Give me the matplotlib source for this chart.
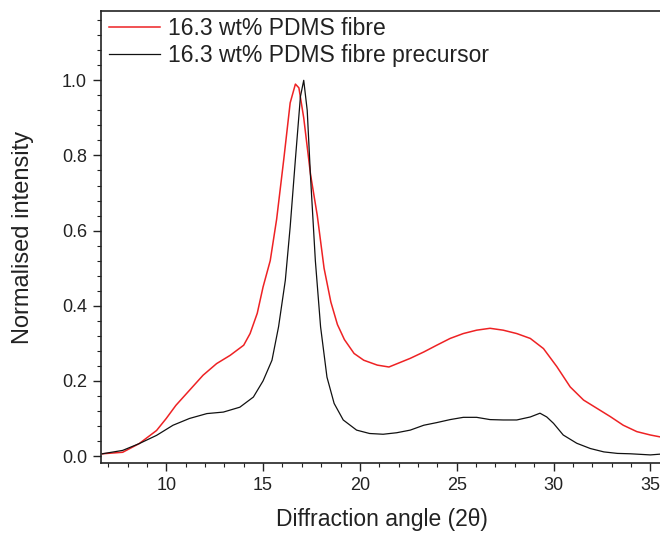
import matplotlib
matplotlib.use("Agg")
import matplotlib.pyplot as plt
from matplotlib.ticker import MultipleLocator

plt.rcParams['font.family'] = ['Liberation Sans', 'DejaVu Sans']

# 16.3 wt% PDMS fibre (red)
fibre_x = [6.7, 7.75, 8.6, 9.5, 10.0, 10.5, 11.2, 11.9, 12.6, 13.3, 14.0, 14.33,
           14.7, 15.0, 15.37, 15.7, 16.07, 16.4, 16.67, 16.85, 17.1, 17.45, 17.8,
           18.15, 18.5, 18.84, 19.2, 19.7, 20.2, 20.9, 21.5, 22.6, 23.3, 23.97,
           24.66, 25.34, 26.03, 26.72, 27.4, 28.1, 28.8, 29.48, 30.17, 30.86,
           31.55, 32.24, 32.93, 33.6, 34.3, 35.0, 35.5]
fibre_y = [0.006, 0.01, 0.033, 0.068, 0.10, 0.135, 0.175, 0.215, 0.246, 0.268,
           0.295, 0.326, 0.38, 0.45, 0.52, 0.63, 0.79, 0.94, 0.99, 0.98, 0.90,
           0.75, 0.64, 0.50, 0.41, 0.35, 0.31, 0.273, 0.255, 0.242, 0.237, 0.26,
           0.277, 0.295, 0.313, 0.326, 0.335, 0.34, 0.335, 0.326, 0.313, 0.286,
           0.238, 0.184, 0.149, 0.127, 0.105, 0.082, 0.065, 0.056, 0.051]

# 16.3 wt% PDMS fibre precursor (black)
prec_x = [6.7, 7.75, 8.6, 9.5, 10.35, 11.2, 12.1, 12.95, 13.8, 14.5, 15.0, 15.46,
          15.8, 16.15, 16.4, 16.67, 16.93, 17.1, 17.28, 17.45, 17.7, 17.97, 18.3,
          18.67, 19.14, 19.83, 20.5, 21.2, 21.9, 22.6, 23.3, 23.97, 24.66, 25.34,
          26.03, 26.72, 27.4, 28.1, 28.8, 29.3, 29.65, 30.0, 30.5, 31.2, 31.9,
          32.6, 33.3, 33.97, 35.0, 35.5]
prec_y = [0.006, 0.015, 0.033, 0.055, 0.082, 0.10, 0.113, 0.117, 0.13, 0.157,
          0.20, 0.255, 0.344, 0.468, 0.61, 0.79, 0.957, 1.0, 0.92, 0.744, 0.52,
          0.344, 0.21, 0.14, 0.096, 0.069, 0.06, 0.058, 0.062, 0.069, 0.082,
          0.089, 0.097, 0.103, 0.103, 0.097, 0.096, 0.096, 0.104, 0.114, 0.104,
          0.087, 0.056, 0.034, 0.02, 0.011, 0.007, 0.006, 0.003, 0.005]

fig = plt.figure(figsize=(6.6, 5.33), dpi=100)
ax = fig.add_axes([0.153, 0.131, 0.85, 0.848])

ax.plot(fibre_x, fibre_y, color='#ee2224', lw=1.1, label='16.3 wt% PDMS fibre')
ax.plot(prec_x, prec_y, color='#111111', lw=0.9, label='16.3 wt% PDMS fibre precursor')

ax.set_xlim(6.63, 35.6)
ax.set_ylim(-0.019, 1.184)
ax.xaxis.set_major_locator(MultipleLocator(5))
ax.xaxis.set_minor_locator(MultipleLocator(1))
ax.yaxis.set_major_locator(MultipleLocator(0.2))
ax.yaxis.set_minor_locator(MultipleLocator(0.04))
ax.yaxis.set_major_formatter(plt.FuncFormatter(lambda v, p: f"{v:.1f}"))

ax.tick_params(which='both', direction='out', colors='#222222', labelsize=13,
               top=False, right=False, pad=4)
ax.tick_params(which='major', length=6, width=1.0)
ax.tick_params(which='minor', length=3.2, width=0.8)
for side in ['left', 'bottom', 'top']:
    ax.spines[side].set_linewidth(1.2)
    ax.spines[side].set_color('#222222')
ax.spines['right'].set_visible(False)

ax.set_xlabel('Diffraction angle (2θ)', fontsize=16.5, color='#222222')
ax.set_ylabel('Normalised intensity', fontsize=17, color='#222222')
ax.xaxis.set_label_coords(0.5, -0.1)
ax.yaxis.set_label_coords(-0.12, 0.5)

leg = ax.legend(loc='upper left', frameon=False, fontsize=16.5, handlelength=2.25,
                handletextpad=0.35, borderaxespad=0, borderpad=0, labelspacing=0.2,
                bbox_to_anchor=(0.014, 0.988))
for t in leg.get_texts():
    t.set_color('#222222')

fig.savefig('out.png', dpi=100)
